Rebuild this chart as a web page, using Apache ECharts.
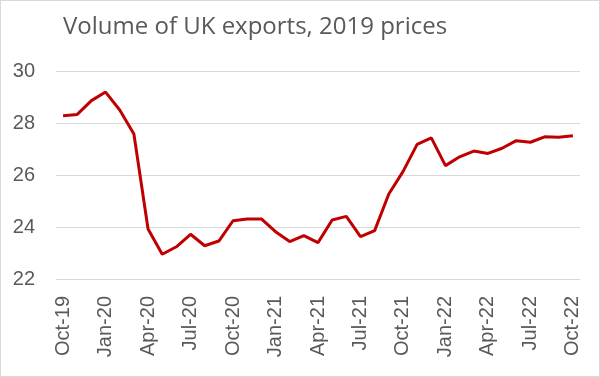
<!DOCTYPE html>
<html>
<head>
<meta charset="utf-8">
<script src="https://cdn.jsdelivr.net/npm/echarts@6/dist/echarts.min.js"></script>
<style>
  html, body { margin: 0; padding: 0; background: #fff; }
  #main { width: 600px; height: 377px; box-sizing: border-box; border: 1px solid #d9d9d9; }
</style>
</head>
<body>
<div id="main"></div>
<script>
var months = ['Oct-19','Nov-19','Dec-19','Jan-20','Feb-20','Mar-20','Apr-20','May-20','Jun-20','Jul-20','Aug-20','Sep-20',
              'Oct-20','Nov-20','Dec-20','Jan-21','Feb-21','Mar-21','Apr-21','May-21','Jun-21','Jul-21','Aug-21','Sep-21',
              'Oct-21','Nov-21','Dec-21','Jan-22','Feb-22','Mar-22','Apr-22','May-22','Jun-22','Jul-22','Aug-22','Sep-22','Oct-22'];
var exportsVolume = [28.28, 28.33, 28.86, 29.19, 28.50, 27.58, 23.92, 22.95, 23.24, 23.72, 23.28, 23.46,
                     24.24, 24.31, 24.31, 23.82, 23.44, 23.67, 23.40, 24.27, 24.41, 23.63, 23.86, 25.27,
                     26.13, 27.18, 27.43, 26.36, 26.70, 26.92, 26.83, 27.03, 27.32, 27.26, 27.47, 27.45, 27.51];

var myChart = echarts.init(document.getElementById('main'));
var option = {
    animation: false,
    title: {
        text: 'Volume of UK exports, 2019 prices',
        left: 57,
        top: 9,
        textStyle: {
            fontFamily: 'Open Sans',
            fontSize: 24,
            fontWeight: 'normal',
            color: '#595959'
        }
    },
    grid: {
        left: 55,
        right: 19,
        top: 70,
        bottom: 97
    },
    xAxis: {
        type: 'category',
        data: months,
        boundaryGap: true,
        axisLine: { lineStyle: { color: '#d9d9d9', width: 1 } },
        axisTick: { show: false },
        axisLabel: {
            interval: 2,
            rotate: 90,
            margin: 17,
            color: '#595959',
            fontFamily: 'Liberation Sans',
            fontSize: 20
        }
    },
    yAxis: {
        type: 'value',
        min: 22,
        max: 30,
        interval: 2,
        axisLine: { show: false },
        axisTick: { show: false },
        splitLine: { lineStyle: { color: '#d9d9d9', width: 1 } },
        axisLabel: {
            margin: 21,
            color: '#595959',
            fontFamily: 'Liberation Sans',
            fontSize: 20
        }
    },
    series: [{
        type: 'line',
        data: exportsVolume,
        symbol: 'none',
        lineStyle: { color: '#c00000', width: 3 }
    }]
};
myChart.setOption(option);
</script>
</body>
</html>
